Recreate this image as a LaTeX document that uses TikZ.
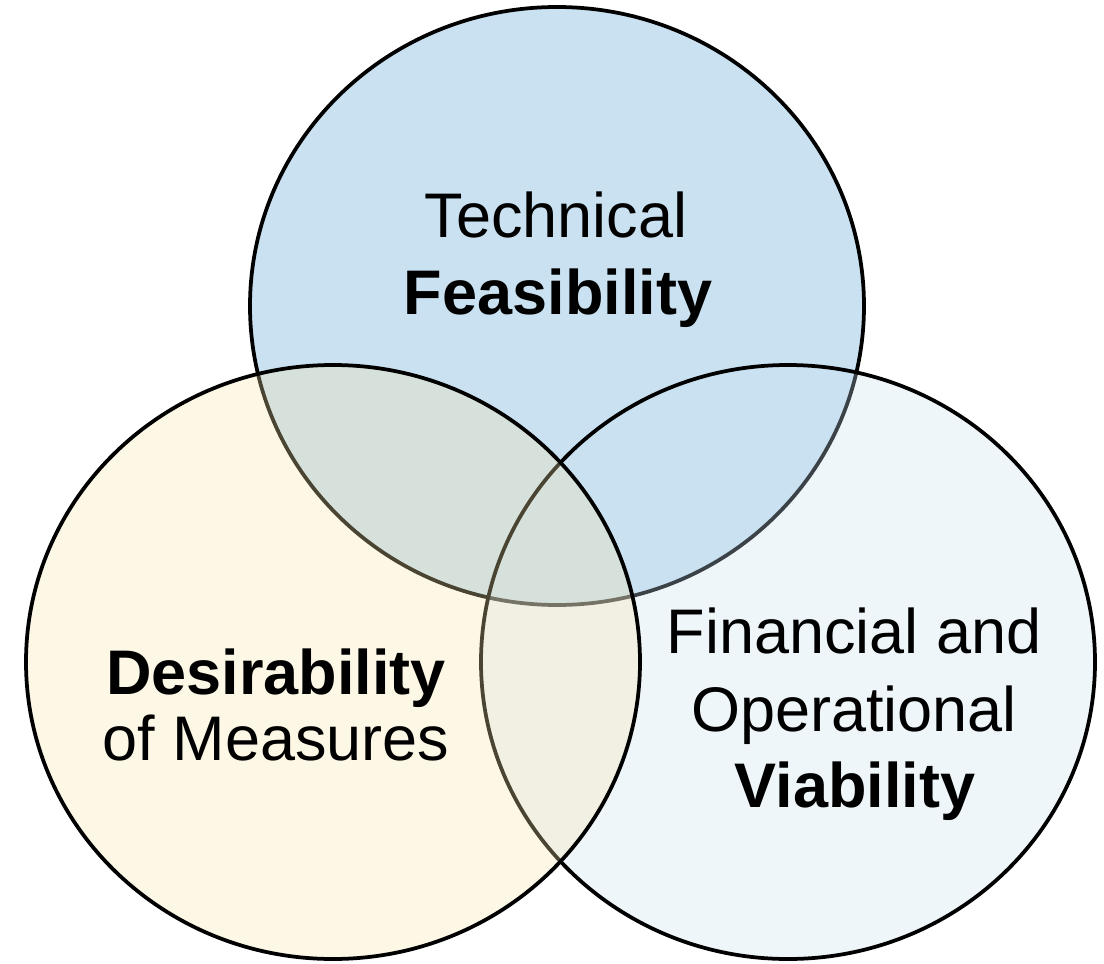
\documentclass[tikz,border=0pt]{standalone}
\usepackage{fontspec}
\setmainfont{Liberation Sans}
\definecolor{topblue}{RGB}{201,225,240}
\definecolor{lefttan}{RGB}{248,228,172}
\begin{document}
\begin{tikzpicture}[x=1pt,y=-1pt,
  ring/.style={line width=3.75pt, draw=black},
  lbl/.style={anchor=base, inner sep=0pt, font=\fontsize{63}{75}\selectfont},
  boldlbl/.style={anchor=base, inner sep=0pt, font=\fontsize{63}{75}\selectfont\bfseries}]
\useasboundingbox (0,0) rectangle (1104,964);
\path[ring, fill=topblue] (557,306) ellipse [x radius=307pt, y radius=299pt];
\path[ring, fill=topblue, fill opacity=0.3] (788,662) ellipse [x radius=307pt, y radius=297pt];
\path[ring, fill=lefttan, fill opacity=0.3] (333,662) ellipse [x radius=307pt, y radius=297pt];
\node[lbl] (t1) at (556,237) {Technical};
\node[boldlbl] (t2) at (558,314) {Feasibility};
\node[boldlbl] (l1) at (276,694) {Desirability};
\node[lbl] (l2) at (276,760) {of Measures};
\node[lbl] (r1) at (854,653) {Financial and};
\node[lbl] (r2) at (854,731) {Operational};
\node[boldlbl] (r3) at (855,807) {Viability};
\end{tikzpicture}
\end{document}
